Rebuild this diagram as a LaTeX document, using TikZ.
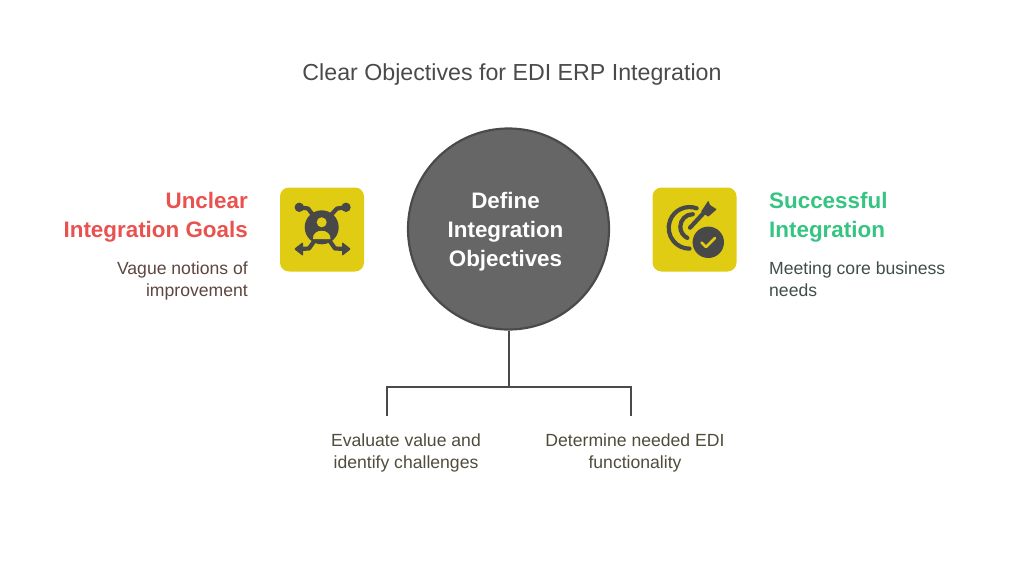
\documentclass[tikz,border=0pt]{standalone}
\usepackage{fontspec}
\setmainfont{Liberation Sans}
\usetikzlibrary{calc}
\definecolor{iconyellow}{HTML}{E0CC12}
\definecolor{darkgrey}{HTML}{484848}
\definecolor{hubgrey}{HTML}{666666}
\definecolor{titlegrey}{HTML}{4A4A4A}
\definecolor{goalred}{HTML}{E8534F}
\definecolor{goalgreen}{HTML}{36C482}
\definecolor{leftbrown}{HTML}{5E4540}
\definecolor{rightgrey}{HTML}{3F4F48}
\definecolor{lowerolive}{HTML}{4F4C3C}
\tikzset{
  iconbox/.style={fill=iconyellow,rounded corners=9pt,minimum width=84pt,minimum height=84pt,inner sep=0pt},
  headtext/.style={font=\fontsize{22.4}{29}\selectfont\bfseries,inner sep=0pt},
  smalltext/.style={font=\fontsize{17.6}{22}\selectfont,inner sep=0pt},
  iconline/.style={draw=darkgrey,line width=4.2pt,line cap=round,line join=round}
}
\begin{document}
\begin{tikzpicture}[x=1pt,y=-1pt]
\useasboundingbox (0,0) rectangle (1024,573);
\node (title) at (512,74.5) [font=\fontsize{23.2}{28}\selectfont,text=titlegrey,inner sep=0pt] {Clear Objectives for EDI ERP Integration};
\node (hub) at (508.5,229) [circle,fill=hubgrey,draw=titlegrey,line width=2.2pt,minimum size=201pt,inner sep=0pt] {};
\node (hubtext) at (505.5,232) [headtext,text=white,align=center] {Define\\Integration\\Objectives};
\node (leftbox) at (322,229.5) [iconbox] {};
\node (rightbox) at (694.5,229.5) [iconbox] {};
\node (lefthead) [headtext,text=goalred,align=right,anchor=north east] at (248,192) {Unclear\\Integration Goals};
\node (leftsub) [smalltext,text=leftbrown,align=right,anchor=north east] at (248,261.5) {Vague notions of\\improvement};
\node (righthead) [headtext,text=goalgreen,align=left,anchor=north west] at (769,192) {Successful\\Integration};
\node (rightsub) [smalltext,text=rightgrey,align=left,anchor=north west] at (769,261.5) {Meeting core business\\needs};
\node (lowerleft) [smalltext,text=lowerolive,align=center,anchor=north] at (406,434) {Evaluate value and\\identify challenges};
\node (lowerright) [smalltext,text=lowerolive,align=center,anchor=north] at (635,434) {Determine needed EDI\\functionality};
% tree below the hub
\coordinate (split) at (508.5,386.5);
\coordinate (endleft) at (386.5,416);
\coordinate (endright) at (630.5,416);
\draw [titlegrey,line width=2pt] (hub.south) -- (split);
\draw [titlegrey,line width=2pt] (endleft) |- (split) -| (endright);
% left icon
\draw [iconline] (299.3,207.3) -- (308,208.5) -- (313,215);
\draw [iconline] (346,207.3) -- (337,208.5) -- (331,215);
\draw [iconline] (298,249) -- (309,248.5) -- (315,240);
\draw [iconline] (347,249) -- (335,248.5) -- (329,240);
\fill [darkgrey] (321.7,227.3) circle (17);
\fill [iconyellow] (321.7,222.3) circle (5);
\fill [iconyellow] (313,239) .. controls (312,228) and (331,228) .. (330.5,239) -- cycle;
\fill [darkgrey] (299.3,207.3) circle (4.7) (346,207.3) circle (4.7);
\fill [darkgrey,rounded corners=1pt] (294,249) -- (303,242) -- (303,256) -- cycle;
\fill [darkgrey,rounded corners=1pt] (351,249) -- (342,242) -- (342,256) -- cycle;
% right icon
\draw [iconline] (696.6,208.3) arc (-70:-270:20.8);
\draw [iconline] (692.8,214.2) arc (-90:-244:12.5);
\draw [iconline] (690,227.7) -- (706,210.5);
\fill [darkgrey,rounded corners=0.5pt] (701,211.7) -- (708.3,200.7) -- (710,205) -- (716.7,209.3) -- (708.3,216.7) -- cycle;
\fill [darkgrey] (708.3,242.3) circle (15.7);
\draw [iconyellow,line width=2.6pt,line cap=round,line join=round] (701.5,242.5) -- (706,247) -- (715,238);
\end{tikzpicture}
\end{document}
